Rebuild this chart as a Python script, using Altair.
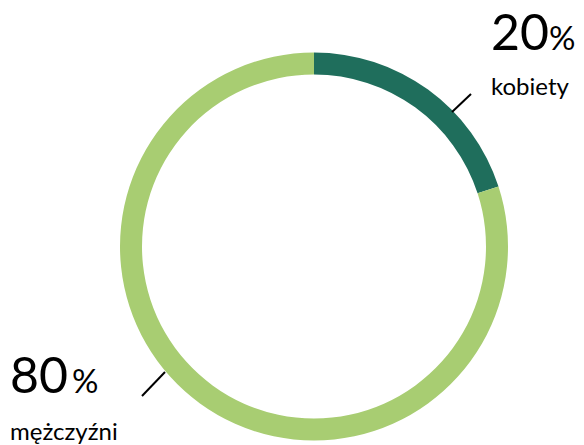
import altair as alt
import pandas as pd

categories = ["kobiety", "mężczyźni"]
values = [20, 80]
colors = ["#1f6e5c", "#a8cd72"]
orders = [0, 1]

df = pd.DataFrame({"category": categories, "value": values, "order": orders})

W, H = 568, 437
cx, cy = 306, 238.5
FONT = "Lato"

base = alt.Chart(df)

ring = base.mark_arc(innerRadius=172, outerRadius=194).encode(
    theta=alt.Theta("value:Q", stack=True),
    color=alt.Color("category:N", scale=alt.Scale(domain=categories, range=colors), legend=None),
    order=alt.Order("order:Q"),
    x=alt.value(cx),
    y=alt.value(cy),
)


def label(cat, x, y_num, y_name, pct_dx, line):
    sub = base.transform_filter(alt.datum.category == cat)
    num = sub.mark_text(font=FONT, fontSize=50, align="left", baseline="alphabetic",
                        color="#000000").encode(text="value:Q", x=alt.value(x), y=alt.value(y_num))
    pct = sub.mark_text(font=FONT, fontSize=33, align="left", baseline="alphabetic",
                        color="#000000").encode(text=alt.value("%"), x=alt.value(x + pct_dx), y=alt.value(y_num))
    name = sub.mark_text(font=FONT, fontSize=24, align="left", baseline="alphabetic",
                         color="#000000").encode(text="category:N", x=alt.value(x), y=alt.value(y_name))
    x1, y1, x2, y2 = line
    rule = sub.mark_rule(color="#000000", strokeWidth=2).encode(
        x=alt.value(x1), y=alt.value(y1), x2=alt.value(x2), y2=alt.value(y2))
    return num + pct + name + rule


lab_k = label("kobiety", 483, 42, 87, 58, (463, 86, 444, 104))
lab_m = label("mężczyźni", 2, 385, 432, 62, (157, 364, 134, 388))

chart = alt.layer(ring, lab_k, lab_m).properties(
    width=W, height=H, padding=0, autosize=alt.AutoSizeParams(type="none")
).configure_view(stroke=None)

chart.save("out.html", embed_options={"renderer": "svg", "actions": False})
